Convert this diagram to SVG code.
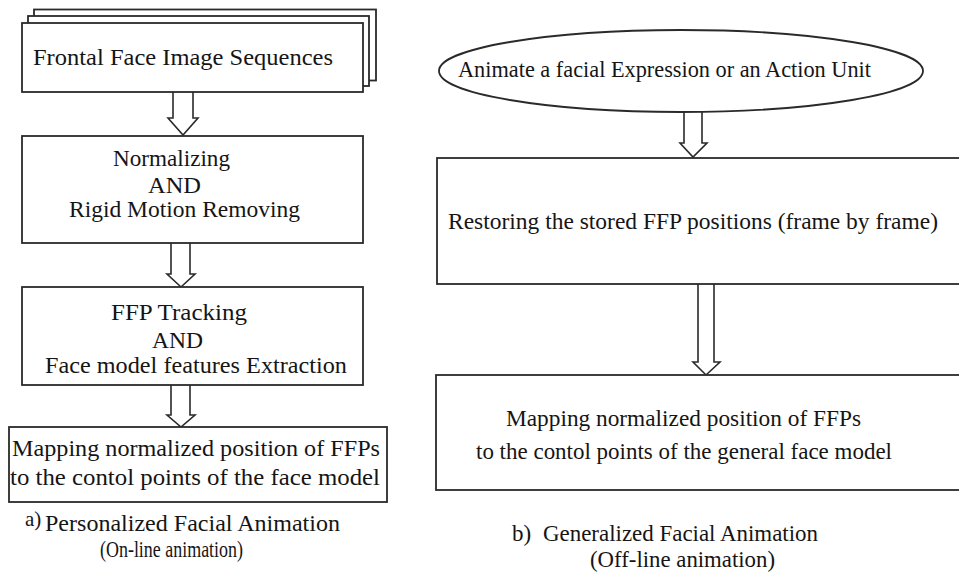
<svg xmlns="http://www.w3.org/2000/svg" width="959" height="573" viewBox="0 0 959 573">
<style>
.box{fill:#fff;stroke:#2a2a2a;stroke-width:1.8}
.arr{fill:#fff;stroke:#2a2a2a;stroke-width:1.6;stroke-linejoin:miter}
text{font-family:'Liberation Serif','DejaVu Serif','Noto Serif','Times New Roman',Times,serif;font-size:23px;fill:#151515}
</style>
<rect width="959" height="573" fill="#fff"/>
<g id="connectors">
<path class="arr" d="M173,92 V118 H168 L183,135 L198,118 H193 V92"/>
<path class="arr" d="M171,243 V274 H167 L181,287 L195,274 H190 V243"/>
<path class="arr" d="M171,385 V415 H167 L181,427 L195,415 H190 V385"/>
<path class="arr" d="M684,112 V143 H680 L693,157 L707,143 H702 V112"/>
<path class="arr" d="M698,284 V362 H693 L706,375 L720,362 H714 V284"/>
</g>
<g id="frontal">
<rect class="box" x="34" y="9.5" width="342" height="71"/>
<rect class="box" x="28" y="16" width="341" height="70"/>
<rect class="box" x="22" y="23" width="341" height="69"/>
<text x="33" y="65" textLength="300" lengthAdjust="spacingAndGlyphs">Frontal Face Image Sequences</text>
</g>
<g id="normalizing">
<rect class="box" x="22" y="136" width="341" height="107"/>
<text x="113" y="166" textLength="117" lengthAdjust="spacingAndGlyphs">Normalizing</text>
<text x="148" y="193" textLength="53" lengthAdjust="spacingAndGlyphs">AND</text>
<text x="69" y="217" textLength="231" lengthAdjust="spacingAndGlyphs">Rigid Motion Removing</text>
</g>
<g id="tracking">
<rect class="box" x="22" y="287" width="341" height="98"/>
<text x="111" y="320" textLength="136" lengthAdjust="spacingAndGlyphs">FFP Tracking</text>
<text x="152" y="348" textLength="51" lengthAdjust="spacingAndGlyphs">AND</text>
<text x="45" y="373" textLength="302" lengthAdjust="spacingAndGlyphs">Face model features Extraction</text>
</g>
<g id="mapping-left">
<rect class="box" x="9" y="427" width="378" height="75"/>
<text x="12" y="456" textLength="368" lengthAdjust="spacingAndGlyphs">Mapping normalized position of FFPs</text>
<text x="10" y="485" textLength="370" lengthAdjust="spacingAndGlyphs">to the contol points of the face model</text>
</g>
<g id="caption-a">
<text x="25" y="526" style="font-size:21px">a)</text>
<text x="45" y="531" textLength="295" lengthAdjust="spacingAndGlyphs">Personalized Facial Animation</text>
<text x="100" y="557" textLength="143" lengthAdjust="spacingAndGlyphs">(On-line animation)</text>
</g>
<g id="animate">
<ellipse class="box" cx="681" cy="71" rx="242" ry="41"/>
<text x="458" y="77" textLength="413" lengthAdjust="spacingAndGlyphs">Animate a facial Expression or an Action Unit</text>
</g>
<g id="restoring">
<rect class="box" x="437" y="158" width="530" height="126"/>
<text x="448" y="229" textLength="490" lengthAdjust="spacingAndGlyphs">Restoring the stored FFP positions (frame by frame)</text>
</g>
<g id="mapping-right">
<rect class="box" x="436" y="375" width="530" height="115"/>
<text x="506" y="426" textLength="355" lengthAdjust="spacingAndGlyphs">Mapping normalized position of FFPs</text>
<text x="476" y="459" textLength="416" lengthAdjust="spacingAndGlyphs">to the contol points of the general face model</text>
</g>
<g id="caption-b">
<text x="512" y="541">b)</text>
<text x="543" y="541" textLength="275" lengthAdjust="spacingAndGlyphs">Generalized Facial Animation</text>
<text x="590" y="567" textLength="185" lengthAdjust="spacingAndGlyphs">(Off-line  animation)</text>
</g>
</svg>
